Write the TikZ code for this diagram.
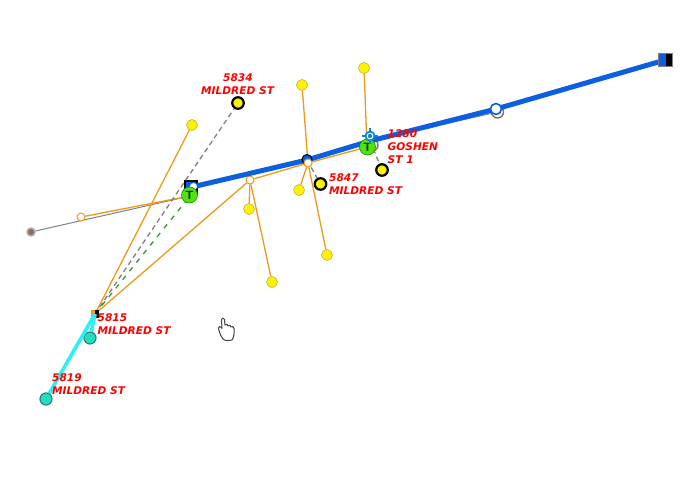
\documentclass[tikz,border=0pt]{standalone}
\usepackage{fontspec}
\setmainfont{DejaVu Sans}
\usepackage{tikz}
\usetikzlibrary{positioning}
\definecolor{wireblue}{HTML}{0B5FE0}
\definecolor{wireorange}{HTML}{EB9A1C}
\definecolor{wirecyan}{HTML}{2CF0F5}
\definecolor{tealfill}{HTML}{22DDC0}
\definecolor{tgreen}{HTML}{55E010}
\definecolor{brownring}{HTML}{8C6E60}
\tikzset{x=1pt, y=-1pt,
    lamp/.style={draw=black, line width=2.2pt, circle, fill=yellow, inner sep=0pt, minimum size=11.5pt},
    yellowdot/.style={draw=olive!70, line width=.5pt, circle, fill=yellow, inner sep=0pt, minimum size=11pt},
    ring/.style={draw=wireorange, line width=1pt, circle, fill=white, inner sep=0pt, minimum size=8pt},
    teal/.style={draw=teal!60!gray, line width=1.2pt, circle, fill=tealfill, inner sep=0pt, minimum size=12pt},
    tee/.style={draw=green!60!black, line width=.6pt, circle, fill=tgreen, inner sep=0pt, minimum size=16pt, font=\sffamily\bfseries\large, text=green!20!black},
    addr/.style={text=red, font=\fontsize{10.6pt}{13pt}\selectfont\bfseries\itshape, align=left, inner sep=0pt},
    orange wire/.style={draw=wireorange, line width=1.3pt},
    grey wire/.style={draw=gray, line width=1pt},
    grey dash/.style={draw=gray, line width=1.3pt, dash pattern=on 5pt off 3.5pt},
    green dash/.style={draw=green!50!black!80!white, line width=1.3pt, dash pattern=on 5pt off 6pt},
    blue wire/.style={draw=wireblue, line width=5pt},
    cyan wire/.style={draw=wirecyan, line width=3.6pt}}
\begin{document}
\begin{tikzpicture}
    \useasboundingbox (0,0) rectangle (697,492);
    % junction points
    \foreach \i/\x/\y in {tap/95/314, polea/192/187, poleb/307/160, polec/370/141, poled/496/109,
            hubw/250/180, hubm/308/163, hube/367/147, poleg/190/196} {
        \coordinate (\i) at (\x,\y);
    }
    % lower layer
    \node[draw=brownring, line width=1.4pt, circle, fill=white, minimum size=12pt, inner sep=0pt] (brownd) at (497.5,112) {};
    \node[draw=brownring, line width=1.4pt, circle, fill=white, minimum size=12pt, inner sep=0pt] (brownc) at (372,145) {};
    \node[circle, draw=gray!60, fill=brownring, line width=1.4pt, minimum size=8pt, inner sep=0pt] (far) at (31,232) {};
    \node[draw=black, line width=1.2pt, fill=wireblue, minimum size=12pt, inner sep=0pt] (boxa) at (191,187) {};
    % yellow dots
    \foreach \i/\x/\y in {ya/192/125, yb/302/85, yc/364/68, yd/299/190, ye/249/209, yf/272/282, yg/327/255} {
        \node[yellowdot] (\i) at (\x,\y) {};
    }
    \draw[grey wire] (far) -- (poleg);
    \draw[grey wire] (polec) -- (brownd);
    \node[ring] (ringa) at (81,217) {};
    \draw[orange wire] (ringa) -- (poleg);
    \node[ring] (ringw) at (hubw) {};
    \node[ring] (ringm) at (hubm) {};
    \foreach \i\j in {tap/ya, tap/ringw, ringw/ringm, ringm/hube, ringw/ye, ringw/yf, ringm/yb, ringm/yd, ringm/yg, hube/yc} {
        \draw[orange wire] (\i) -- (\j);
    }
    % lamps with labels
    \node[lamp] (lampa) at (238,103) {};
    \node[lamp] (lampb) at (320.5,184) {};
    \node[lamp] (lampc) at (382,170) {};
    \draw[grey dash] (tap) -- (lampa);
    \draw[green dash] (tap) -- (poleg);
    \draw[grey dash] (poleb) -- (lampb);
    \draw[grey dash] (polec) -- (lampc);
    % mains
    \draw[blue wire] (polea) -- (poleb) -- (polec) -- (poled) -- (660,61.5) coordinate (poleend);
    \node[draw=gray, line width=.6pt, fill=black, minimum size=13pt, inner sep=0pt] (boxe) at (665.5,60) {};
    \fill[wireblue] (boxe.north west) rectangle (boxe.south);
    \draw[gray, line width=.6pt] (boxe.north west) rectangle (boxe.south east);
    \node[circle, draw=wireblue, fill=white, line width=1.6pt, minimum size=11pt, inner sep=0pt] (whited) at (poled) {};
    \node[circle, fill=white, minimum size=7pt, inner sep=0pt] (whitea) at (193.5,186.5) {};
    \node[circle, draw=black, fill=wireblue, line width=1pt, minimum size=10pt, inner sep=0pt] (blackb) at (307,159.5) {};
    \node[ring] at (hubm) {};
    % cyan drops
    \foreach \j/\x/\y in {cb/46/399, cc/90/338} {
        \node[teal] (\j) at (\x,\y) {};
    }
    \node[fill=wireorange, minimum size=8pt, inner sep=0pt] (boxt) at (tap) {};
    \fill[black] (boxt.north) rectangle (boxt.south east);
    \draw[cyan wire] (boxt.center) -- (cb);
    \draw[cyan wire] (boxt.center) -- (cc);
    % T marks
    \node[tee] (teea) at (189.5,195) {T};
    \node[tee] (teeb) at (367.5,147) {T};
    \node[circle, draw=cyan!70!blue, line width=1.8pt, fill=white, minimum size=9pt, inner sep=0pt] (target) at (370,136) {};
    \fill[cyan!70!blue] (target) circle (2.2pt);
    \foreach \a in {0,90,180,270} {
        \draw[cyan!70!blue, line width=1.4pt] (target.\a) -- ++(\a:2.5pt);
    }
    % labels
    \node[addr, anchor=north west] (la) at (201,73) {\hspace{22pt}5834\\MILDRED ST};
    \node[addr, anchor=north west] (lb) at (387.5,129.5) {1280\\GOSHEN\\ST 1};
    \node[addr, anchor=north west] (lc) at (329,173) {5847\\MILDRED ST};
    \node[addr, anchor=north west] (ld) at (97.5,313) {5815\\MILDRED ST};
    \node[addr, anchor=north west] (le) at (52,373) {5819\\MILDRED ST};
    % hand
    \draw[black!75, line width=1pt, fill=white, line join=round]
        (223,339) .. controls (220,335) and (219,331) .. (218.5,328) .. controls (218.5,326) and (220.5,326) .. (222,328.5)
        -- (221.5,319.5) .. controls (222,317.5) and (224,317.5) .. (224.5,319.5)
        -- (225,325) .. controls (226,323.5) and (228,324) .. (228,326)
        .. controls (229,324.5) and (231,325) .. (231,327)
        .. controls (232,326) and (234,326.5) .. (234,328.5)
        .. controls (234.5,333) and (234,337) .. (232,340)
        .. controls (229,341) and (225,341) .. (223,339) -- cycle;
\end{tikzpicture}
\end{document}
